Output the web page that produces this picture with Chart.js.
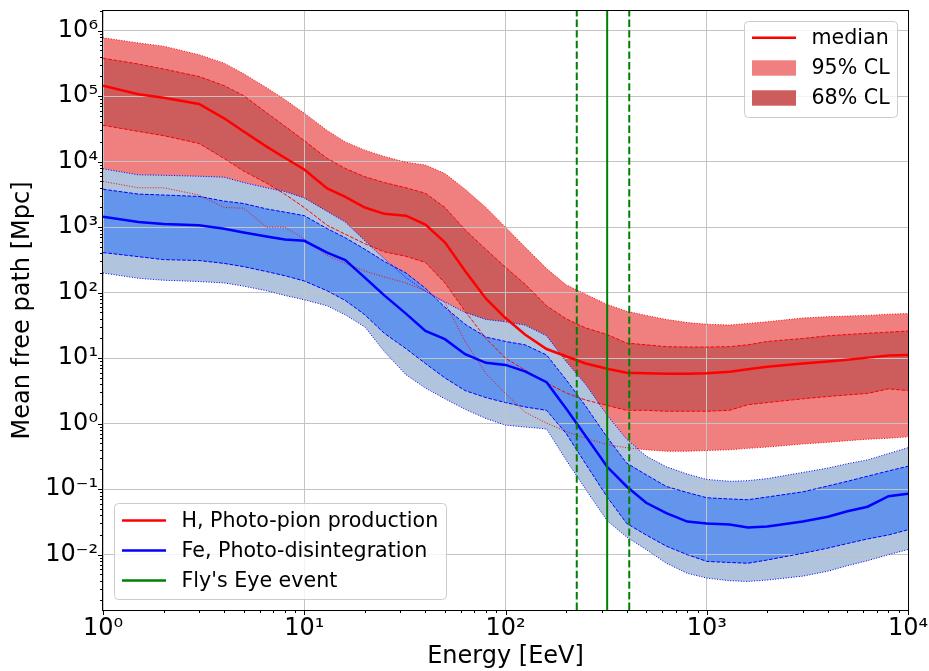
<!DOCTYPE html>
<html>
<head>
<meta charset="utf-8">
<script src="https://cdn.jsdelivr.net/npm/chart.js@4.4.0/dist/chart.umd.min.js"></script>
<style>
html,body{margin:0;padding:0;background:#ffffff;}
#wrap{width:929px;height:671px;position:relative;}
</style>
</head>
<body>
<div id="wrap"><canvas id="c" width="929" height="671"></canvas></div>
<script>
// ---------------- data ----------------
const energy = [1, 1.5, 2, 3, 4, 5, 6.5, 8, 10, 13, 16, 20, 25, 32, 40, 50, 63, 80, 100, 125, 160, 200, 250, 320, 400, 500, 630, 800, 1000, 1300, 1600, 2000, 3000, 4000, 5000, 6300, 8000, 10000];

// H, photo-pion production (Mpc)
const hUpper95 = [7.8e5, 6.5e5, 5.8e5, 4.3e5, 3.2e5, 2.2e5, 1.35e5, 8.9e4, 5.5e4, 3.0e4, 2.0e4, 1.5e4, 1.2e4, 9.8e3, 8.9e3, 6.6e3, 3.8e3, 2.0e3, 1.0e3, 500, 234, 132, 95, 66, 52, 45, 39, 35, 33, 32, 34, 36, 41, 43, 44, 45, 47, 48];
const hUpper68 = [3.8e5, 3.1e5, 2.6e5, 2.0e5, 1.45e5, 1.02e5, 5.6e4, 3.5e4, 2.1e4, 1.12e4, 7.9e3, 5.9e3, 4.8e3, 4.0e3, 3.3e3, 2.0e3, 910, 457, 245, 135, 63, 40, 29, 23, 17, 16, 15, 14.8, 14.8, 15, 16, 18, 20, 22, 23, 24, 25, 26];
const hMedian  = [1.45e5, 1.07e5, 9.5e4, 7.6e4, 4.6e4, 2.9e4, 1.7e4, 1.15e4, 7.6e3, 3.9e3, 2.9e3, 2.0e3, 1.6e3, 1.5e3, 1.1e3, 590, 214, 81, 41, 23, 13.8, 10.7, 8.3, 6.9, 6.0, 5.9, 5.8, 5.8, 5.9, 6.2, 6.8, 7.4, 8.3, 8.9, 9.5, 10.2, 11.0, 11.2];
const hLower68 = [3.6e4, 2.9e4, 2.5e4, 1.9e4, 1.12e4, 7.2e3, 4.7e3, 3.2e3, 2.0e3, 1.07e3, 780, 560, 420, 360, 290, 141, 52, 20, 10, 6.6, 4.2, 2.95, 2.3, 1.9, 1.6, 1.6, 1.55, 1.55, 1.55, 1.6, 1.95, 2.1, 2.4, 2.6, 2.75, 2.9, 3.4, 3.2];
const hLower95 = [5.0e3, 4.0e3, 4.0e3, 3.1e3, 2.0e3, 1.95e3, 1.0e3, 1.0e3, 660, 370, 280, 214, 174, 141, 107, 71, 18, 5.8, 2.9, 1.5, 1.02, 0.76, 0.60, 0.48, 0.43, 0.40, 0.38, 0.38, 0.39, 0.40, 0.42, 0.44, 0.49, 0.52, 0.55, 0.58, 0.60, 0.63];

// Fe, photo-disintegration (Mpc)
const feUpper95 = [7.8e3, 6.3e3, 6.2e3, 6.0e3, 5.8e3, 4.8e3, 4.0e3, 3.5e3, 2.8e3, 1.74e3, 1.2e3, 620, 330, 170, 105, 72, 50, 39, 36, 32, 22, 8.9, 4.0, 1.35, 0.58, 0.32, 0.22, 0.17, 0.141, 0.132, 0.135, 0.145, 0.18, 0.21, 0.245, 0.28, 0.35, 0.43];
const feUpper68 = [3.8e3, 3.2e3, 3.1e3, 2.95e3, 2.5e3, 2.3e3, 1.9e3, 1.7e3, 1.5e3, 950, 690, 460, 300, 200, 117, 60, 33, 21, 18, 16, 11.2, 4.7, 1.86, 0.62, 0.25, 0.166, 0.11, 0.089, 0.074, 0.071, 0.069, 0.076, 0.091, 0.112, 0.132, 0.158, 0.19, 0.224];
const feMedian  = [1.45e3, 1.2e3, 1.12e3, 1.07e3, 950, 830, 720, 650, 620, 410, 316, 170, 91, 48, 26, 19.5, 11.5, 8.5, 7.9, 6.3, 4.3, 1.7, 0.65, 0.22, 0.11, 0.062, 0.043, 0.032, 0.030, 0.029, 0.026, 0.027, 0.032, 0.038, 0.046, 0.054, 0.078, 0.085];
const feLower68 = [410, 355, 320, 310, 280, 250, 210, 182, 151, 107, 76, 46, 24, 14, 8.3, 5.0, 3.2, 2.5, 2.1, 1.8, 1.6, 0.71, 0.245, 0.076, 0.030, 0.020, 0.0135, 0.010, 0.0079, 0.0076, 0.0074, 0.0083, 0.0105, 0.0126, 0.0148, 0.0174, 0.020, 0.024];
const feLower95 = [200, 166, 155, 148, 141, 126, 107, 91, 78, 63, 46, 30, 12.6, 5.6, 3.5, 2.4, 1.66, 1.2, 0.95, 0.89, 0.83, 0.28, 0.10, 0.033, 0.0186, 0.012, 0.0074, 0.0052, 0.0044, 0.0040, 0.0039, 0.0041, 0.0047, 0.0056, 0.0068, 0.0081, 0.010, 0.012];

// Fly's Eye event energy (EeV) and its uncertainty range
const flysEyeEnergy = 320;
const flysEyeRange = [226, 412];

// axes
const xMin = 1, xMax = 1e4;
const yMin = 1.43e-3, yMax = 2.0e6;
const xTicks = [1, 10, 100, 1000, 10000];
const yTicks = [1e-2, 1e-1, 1, 10, 100, 1e3, 1e4, 1e5, 1e6];

const seriesNames = ['H, Photo-pion production', 'Fe, Photo-disintegration', "Fly's Eye event"];
const bandNames = ['median', '95% CL', '68% CL'];

// ---------------- styling ----------------
const FONT = "'DejaVu Sans', sans-serif";
const RED = '#ff0000', BLUE = '#0000ff', GREEN = '#008000';
const C95H = '#F08080', C68H = '#CD5C5C', C95F = '#B0C4DE', C68F = '#6495ED';
const DOT = [1, 1.65], DASH = [3.7, 1.6];

const SUP = {'-':'\u207B','0':'\u2070','1':'\u00B9','2':'\u00B2','3':'\u00B3','4':'\u2074','5':'\u2075','6':'\u2076','7':'\u2077','8':'\u2078','9':'\u2079'};
function powLabel(v){
  const e = Math.round(Math.log10(v));
  return '10' + String(e).split('').map(ch => SUP[ch]).join('');
}
function pts(ys){ return energy.map((e, i) => ({x: e, y: ys[i]})); }
function vline(x){ return [{x: x, y: yMin}, {x: x, y: yMax}]; }

const datasets = [
  {label: 'H 95% upper', data: pts(hUpper95), borderColor: RED, borderWidth: 1, borderDash: DOT, fill: 1, backgroundColor: C95H, order: 40},
  {label: 'H 95% lower', data: pts(hLower95), borderColor: RED, borderWidth: 1, borderDash: DOT, fill: false, order: 39},
  {label: 'H 68% upper', data: pts(hUpper68), borderColor: RED, borderWidth: 1, borderDash: DASH, fill: 3, backgroundColor: C68H, order: 30},
  {label: 'H 68% lower', data: pts(hLower68), borderColor: RED, borderWidth: 1, borderDash: DASH, fill: false, order: 29},
  {label: 'Fe 95% upper', data: pts(feUpper95), borderColor: BLUE, borderWidth: 1, borderDash: DOT, fill: 5, backgroundColor: C95F, order: 20},
  {label: 'Fe 95% lower', data: pts(feLower95), borderColor: BLUE, borderWidth: 1, borderDash: DOT, fill: false, order: 19},
  {label: 'Fe 68% upper', data: pts(feUpper68), borderColor: BLUE, borderWidth: 1, borderDash: DASH, fill: 7, backgroundColor: C68F, order: 10},
  {label: 'Fe 68% lower', data: pts(feLower68), borderColor: BLUE, borderWidth: 1, borderDash: DASH, fill: false, order: 9},
  {label: seriesNames[0], data: pts(hMedian), borderColor: RED, borderWidth: 2.5, fill: false, order: 4},
  {label: seriesNames[1], data: pts(feMedian), borderColor: BLUE, borderWidth: 2.5, fill: false, order: 3},
  {label: seriesNames[2] + ' low', data: vline(flysEyeRange[0]), borderColor: GREEN, borderWidth: 2, borderDash: [7.4, 3.2], fill: false, order: 2},
  {label: seriesNames[2], data: vline(flysEyeEnergy), borderColor: GREEN, borderWidth: 2, fill: false, order: 1},
  {label: seriesNames[2] + ' high', data: vline(flysEyeRange[1]), borderColor: GREEN, borderWidth: 2, borderDash: [7.4, 3.2], fill: false, order: 0}
];

function roundRect(ctx, x, y, w, h, r){
  ctx.beginPath();
  ctx.moveTo(x + r, y);
  ctx.lineTo(x + w - r, y); ctx.arcTo(x + w, y, x + w, y + r, r);
  ctx.lineTo(x + w, y + h - r); ctx.arcTo(x + w, y + h, x + w - r, y + h, r);
  ctx.lineTo(x + r, y + h); ctx.arcTo(x, y + h, x, y + h - r, r);
  ctx.lineTo(x, y + r); ctx.arcTo(x, y, x + r, y, r);
  ctx.closePath();
}

function drawLegend(ctx, box, items){
  ctx.save();
  roundRect(ctx, box.x, box.y, box.w, box.h, 4);
  ctx.fillStyle = 'rgba(255,255,255,0.8)';
  ctx.fill();
  ctx.strokeStyle = '#cccccc';
  ctx.lineWidth = 1;
  ctx.stroke();
  ctx.font = '20.6px ' + FONT;
  ctx.textBaseline = 'middle';
  ctx.textAlign = 'left';
  items.forEach(it => {
    if (it.kind === 'line') {
      ctx.setLineDash([]);
      ctx.strokeStyle = it.color;
      ctx.lineWidth = 2.5;
      ctx.beginPath();
      ctx.moveTo(box.x + 7.5, it.y);
      ctx.lineTo(box.x + 51.5, it.y);
      ctx.stroke();
    } else {
      ctx.fillStyle = it.color;
      ctx.fillRect(box.x + 7.5, it.y - 7.7, 44, 15.4);
    }
    ctx.fillStyle = '#000';
    ctx.fillText(it.text, box.x + 67, it.y + 0.8);
  });
  ctx.restore();
}

const framePlugin = {
  id: 'frame',
  afterDraw(chart){
    const ctx = chart.ctx, a = chart.chartArea;
    const xs = chart.scales.x, ys = chart.scales.y;
    ctx.save();
    ctx.setLineDash([]);
    ctx.strokeStyle = '#000';
    ctx.lineWidth = 1;
    // y ticks (major + minor)
    for (let e = -3; e <= 6; e++) {
      for (let m = 1; m <= 9; m++) {
        const v = m * Math.pow(10, e);
        if (v < yMin || v > yMax) continue;
        const p = Math.round(ys.getPixelForValue(v)) + 0.5;
        const len = (m === 1) ? 5 : 3;
        ctx.beginPath(); ctx.moveTo(a.left - len, p); ctx.lineTo(a.left, p); ctx.stroke();
      }
    }
    // x ticks (major + minor)
    for (let e = 0; e <= 4; e++) {
      for (let m = 1; m <= 9; m++) {
        const v = m * Math.pow(10, e);
        if (v < xMin || v > xMax) continue;
        const p = Math.round(xs.getPixelForValue(v)) + 0.5;
        const len = (m === 1) ? 5 : 3;
        ctx.beginPath(); ctx.moveTo(p, a.bottom); ctx.lineTo(p, a.bottom + len); ctx.stroke();
      }
    }
    // frame
    ctx.strokeRect(Math.round(a.left) - 0.5, Math.round(a.top) - 0.5, Math.round(a.right - a.left) + 1, Math.round(a.bottom - a.top) + 1);
    ctx.restore();

    drawLegend(ctx, {x: 744.5, y: 21.5, w: 153, h: 96}, [
      {kind: 'line', color: RED, y: 37.7, text: bandNames[0]},
      {kind: 'patch', color: C95H, y: 68, text: bandNames[1]},
      {kind: 'patch', color: C68H, y: 98, text: bandNames[2]}
    ]);
    drawLegend(ctx, {x: 114.5, y: 503.5, w: 332, h: 96}, [
      {kind: 'line', color: RED, y: 520.5, text: seriesNames[0]},
      {kind: 'line', color: BLUE, y: 550.5, text: seriesNames[1]},
      {kind: 'line', color: GREEN, y: 580.5, text: seriesNames[2]}
    ]);
  }
};

function noPad(s){ s.paddingLeft = 0; s.paddingRight = 0; s.paddingTop = 0; s.paddingBottom = 0; }

new Chart(document.getElementById('c'), {
  type: 'line',
  data: {datasets: datasets},
  options: {
    responsive: false,
    animation: false,
    devicePixelRatio: 1,
    layout: {padding: {top: 11, right: 21, left: 0, bottom: 0}},
    elements: {point: {radius: 0, hoverRadius: 0}, line: {tension: 0}},
    plugins: {
      legend: {display: false},
      tooltip: {enabled: false},
      filler: {drawTime: 'beforeDraw', propagate: false}
    },
    events: [],
    scales: {
      x: {
        type: 'logarithmic', min: xMin, max: xMax,
        afterBuildTicks: s => { s.ticks = xTicks.map(v => ({value: v, major: true})); },
        afterFit: s => { s.height = 61; noPad(s); },
        ticks: {callback: v => powLabel(v), font: {family: FONT, size: 24}, color: '#000', padding: 4, maxRotation: 0, autoSkip: false},
        grid: {color: '#c4c4c4', lineWidth: 1, drawTicks: false},
        border: {display: false},
        title: {display: true, text: 'Energy [EeV]', font: {family: FONT, size: 24}, color: '#000', padding: {top: 0, bottom: 0}}
      },
      y: {
        type: 'logarithmic', min: yMin, max: yMax,
        afterBuildTicks: s => { s.ticks = yTicks.map(v => ({value: v, major: true})); },
        afterFit: s => { s.width = 103; noPad(s); },
        ticks: {callback: v => powLabel(v), font: {family: FONT, size: 24}, color: '#000', padding: 5, autoSkip: false},
        grid: {color: '#c4c4c4', lineWidth: 1, drawTicks: false},
        border: {display: false},
        title: {display: true, text: 'Mean free path [Mpc]', font: {family: FONT, size: 24}, color: '#000', padding: {top: 8, bottom: 0}}
      }
    }
  },
  plugins: [framePlugin]
});
</script>
</body>
</html>
